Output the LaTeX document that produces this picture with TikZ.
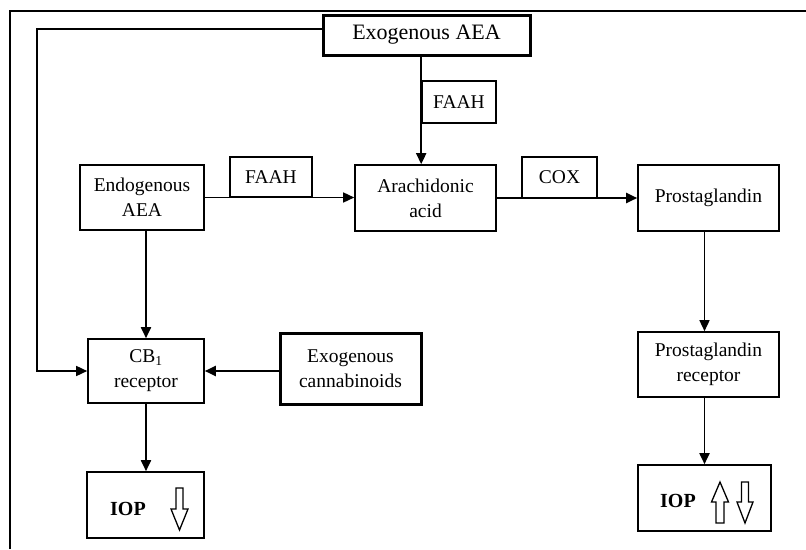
\documentclass[tikz,border=0pt]{standalone}
\usepackage{fontspec}
\setmainfont{Liberation Serif}
\usetikzlibrary{arrows.meta,calc}
\begin{document}
\begin{tikzpicture}[x=1pt,y=-1pt,
  box/.style={draw,line width=1.6pt,rectangle,inner sep=0pt,align=center,
    font=\fontsize{19.5}{25}\selectfont},
  thickbox/.style={box,line width=3pt},
  arr/.style={line width=1.8pt,-{Triangle[length=11pt,width=10pt]}},
  hollow/.style={draw,line width=1.3pt,fill=white,line join=miter},
  ioptext/.style={font=\fontsize{20}{24}\selectfont\bfseries,inner sep=0pt,anchor=base west}
]
\useasboundingbox (0,0) rectangle (806,549);
% frame
\draw[line width=2.2pt] (10,549) -- (10,11) -- (806,11);

% nodes
\node[thickbox,minimum width=207pt,minimum height=40pt,font=\fontsize{22}{26}\selectfont] (exoAEA) at (426.5,35) {Exogenous AEA};
\node[box,minimum width=74pt,minimum height=42pt] (faahT) at (459,102) {FAAH};
\node[box,minimum width=124pt,minimum height=65pt] (endo) at (142,197.5) {Endogenous\\AEA};
\node[box,minimum width=82pt,minimum height=40pt] (faahL) at (271,177) {FAAH};
\node[box,minimum width=141pt,minimum height=66pt] (arach) at (425.5,198) {Arachidonic\\acid};
\node[box,line width=2pt,minimum width=75pt,minimum height=41pt] (cox) at (559.5,177.5) {COX};
\node[box,minimum width=141pt,minimum height=66pt] (prost) at (708.5,198) {Prostaglandin};
\node[box,minimum width=116pt,minimum height=64pt] (cb1) at (146,371) {CB\textsubscript{1}\\receptor};
\node[thickbox,minimum width=141pt,minimum height=71pt] (exocann) at (350.5,368.5) {Exogenous\\cannabinoids};
\node[box,minimum width=141pt,minimum height=65pt] (prec) at (708.5,364.5) {Prostaglandin\\receptor};
\node[box,minimum width=117pt,minimum height=66pt] (iopL) at (145.5,505) {};
\node[box,minimum width=133pt,minimum height=66pt] (iopR) at (704.5,498) {};

% texts in IOP boxes
\node[ioptext] (iopLt) at (110,515) {IOP};
\node[ioptext] (iopRt) at (660,507) {IOP};

% hollow arrows
\draw[hollow] (176,488) -- (183,488) -- (183,509) -- (188,509) -- (179.5,530) -- (171,509) -- (176,509) -- cycle;
\draw[hollow] (716,523) -- (724,523) -- (724,502) -- (728.5,502) -- (720,482) -- (711.5,502) -- (716,502) -- cycle;
\draw[hollow] (741.5,482) -- (748.5,482) -- (748.5,502) -- (753,502) -- (745,523) -- (737,502) -- (741.5,502) -- cycle;

% connectors
\draw[arr] (exoAEA.south -| faahT.west) -- (arach.north -| faahT.west);
\draw[arr,line width=1.5pt] (endo.east) -- (endo.east -| arach.west);
\draw[arr,line width=2.1pt] (arach.east) -- (arach.east -| prost.west);
\draw[arr] (endo.south -| cb1.north) -- (cb1.north);
\draw[arr,line width=1.5pt] ([yshift=6pt]exoAEA.west) -| ([xshift=-50pt]cb1.west) -- (cb1.west);
\draw[arr,line width=2.1pt] (cb1.east -| exocann.west) -- (cb1.east);
\draw[arr] (cb1.south) -- (cb1.south |- iopL.north);
\draw[arr,line width=1.5pt] (prost.south -| iopR.north) -- (prec.north -| iopR.north);
\draw[arr] (prec.south -| iopR.north) -- (iopR.north);
\end{tikzpicture}
\end{document}
